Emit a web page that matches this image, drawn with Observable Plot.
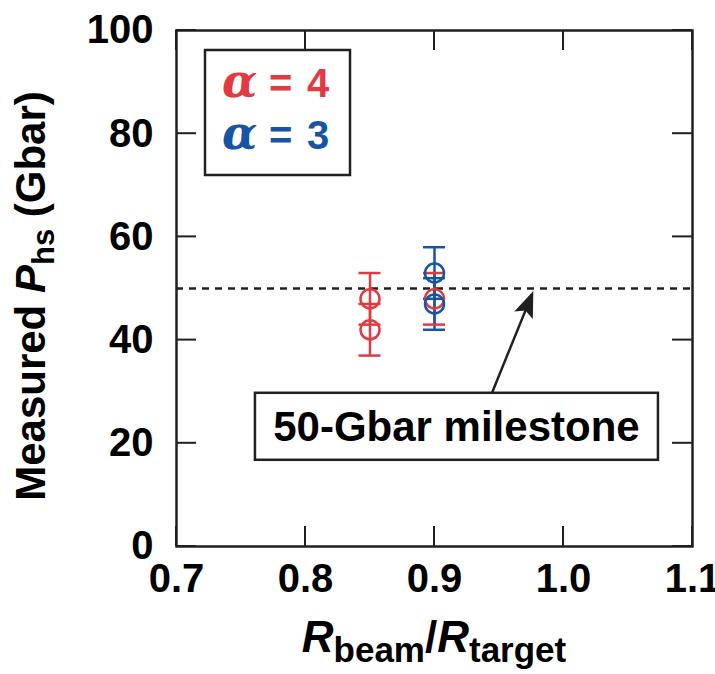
<!DOCTYPE html>
<html><head><meta charset="utf-8">
<script src="https://cdn.jsdelivr.net/npm/d3@7"></script>
<script src="https://cdn.jsdelivr.net/npm/@observablehq/plot@0.6"></script>
<style>body{margin:0;background:#fff} #chart{width:715px;height:674px}</style>
</head><body><div id="chart"></div>
<script>
// ---- data ----
const xTicks = [0.7, 0.8, 0.9, 1.0, 1.1];
const yTicks = [0, 20, 40, 60, 80, 100];
const seriesNames = ["α = 4", "α = 3"];
const seriesColors = ["#e23a41", "#1754a3"];
// alpha = 4 (red)
const redX = [0.85, 0.85, 0.90];
const redY = [48, 42, 48];
const redErr = [5, 5, 5];
// alpha = 3 (blue)
const blueX = [0.90, 0.90];
const blueY = [53, 47];
const blueErr = [5, 5];
// annotation
const milestone = 50;
const milestoneLabel = "50-Gbar milestone";
const arrowFrom = [0.945, 29.7];
const arrowTo = [0.977, 49.4];
const labelAt = [0.9174, 23.2];

const FONT = "'Liberation Sans', Arial, Helvetica, sans-serif";
const INK = "#231f20";
const TICK = 20;

const rows = [
  ...redX.map((x, i) => ({series: seriesNames[0], x, y: redY[i], lo: redY[i] - redErr[i], hi: redY[i] + redErr[i]})),
  ...blueX.map((x, i) => ({series: seriesNames[1], x, y: blueY[i], lo: blueY[i] - blueErr[i], hi: blueY[i] + blueErr[i]}))
];

// inward ticks on all four sides, positioned by the plot's scales
function inwardTicks(index, {x, y}, values, dims) {
  const g = d3.create("svg:g").attr("stroke", INK).attr("stroke-width", 2);
  const L = dims.marginLeft, R = dims.width - dims.marginRight;
  const T = dims.marginTop, B = dims.height - dims.marginBottom;
  for (const v of xTicks) {
    const px = x(v);
    g.append("line").attr("x1", px).attr("x2", px).attr("y1", B).attr("y2", B - TICK);
    g.append("line").attr("x1", px).attr("x2", px).attr("y1", T).attr("y2", T + TICK);
  }
  for (const v of yTicks) {
    const py = y(v);
    g.append("line").attr("y1", py).attr("y2", py).attr("x1", L).attr("x2", L + TICK);
    g.append("line").attr("y1", py).attr("y2", py).attr("x1", R).attr("x2", R - TICK);
  }
  return g.node();
}

function annotation(index, {x, y}) {
  const g = d3.create("svg:g");
  const x0 = x(arrowFrom[0]), y0 = y(arrowFrom[1]);
  const x1 = x(arrowTo[0]), y1 = y(arrowTo[1]);
  const ang = Math.atan2(y1 - y0, x1 - x0);
  const c = Math.cos(ang), s = Math.sin(ang);
  const hl = 26, hw = 10;
  const bx = x1 - hl * c, by = y1 - hl * s;
  g.append("line").attr("x1", x0).attr("y1", y0).attr("x2", bx + 6 * c).attr("y2", by + 6 * s)
    .attr("stroke", INK).attr("stroke-width", 2.5);
  const px = -s, py = c;
  g.append("path")
    .attr("d", `M${x1},${y1}L${bx + hw * px},${by + hw * py}L${bx + 5 * c},${by + 5 * s}L${bx - hw * px},${by - hw * py}Z`)
    .attr("fill", INK);
  const cx = x(labelAt[0]), cy = y(labelAt[1]);
  const w = 403, h = 67;
  g.append("rect").attr("x", cx - w / 2).attr("y", cy - h / 2).attr("width", w).attr("height", h)
    .attr("fill", "white").attr("stroke", INK).attr("stroke-width", 2.5);
  g.append("text").attr("x", cx).attr("y", cy + 15).attr("text-anchor", "middle")
    .attr("font-family", FONT).attr("font-weight", "bold").attr("font-size", 42).attr("fill", "#000")
    .text(milestoneLabel);
  return g.node();
}

function decorations(index, scales, values, dims) {
  const g = d3.create("svg:g").attr("font-family", FONT).attr("font-weight", "bold").attr("fill", "#000");
  // y label
  const yl = g.append("text").attr("transform", "translate(45,296) rotate(-90)")
    .attr("text-anchor", "middle").attr("font-size", 42);
  yl.append("tspan").text("Measured ");
  yl.append("tspan").attr("font-style", "italic").text("P");
  yl.append("tspan").attr("font-size", 31).attr("dy", 9).text("hs");
  yl.append("tspan").attr("dy", -9).text(" (Gbar)");
  // x label
  const cx = (dims.marginLeft + dims.width - dims.marginRight) / 2;
  const xl = g.append("text").attr("x", cx).attr("y", 652).attr("text-anchor", "middle").attr("font-size", 44);
  xl.append("tspan").attr("font-style", "italic").text("R");
  xl.append("tspan").attr("font-size", 35).attr("dy", 10).text("beam");
  xl.append("tspan").attr("dy", -10).text("/");
  xl.append("tspan").attr("font-style", "italic").text("R");
  xl.append("tspan").attr("font-size", 35).attr("dy", 10).text("target");
  // legend box
  const lx = dims.marginLeft + 29, ly = dims.marginTop + 20;
  g.append("rect").attr("x", lx).attr("y", ly).attr("width", 145).attr("height", 125)
    .attr("fill", "white").attr("stroke", INK).attr("stroke-width", 2.5);
  seriesNames.forEach((name, i) => {
    const [a, eq, num] = name.split(" ");
    const by = ly + 47 + i * 52;
    g.append("text").attr("x", lx + 17).attr("y", by).attr("text-anchor", "start")
      .attr("font-family", "'DejaVu Serif', 'Liberation Serif', serif").attr("font-style", "italic")
      .attr("font-weight", "bold").attr("font-size", 46).attr("fill", seriesColors[i]).text(a);
    g.append("text").attr("x", lx + 64).attr("y", by).attr("text-anchor", "start")
      .attr("font-size", 40).attr("fill", seriesColors[i]).text(eq);
    g.append("text").attr("x", lx + 102).attr("y", by).attr("text-anchor", "start")
      .attr("font-size", 40).attr("fill", seriesColors[i]).text(num);
  });
  return g.node();
}

const chart = Plot.plot({
  width: 715,
  height: 674,
  marginLeft: 176,
  marginRight: 23,
  marginTop: 30,
  marginBottom: 128,
  style: {fontFamily: FONT, fontWeight: "bold", fontSize: "40px", color: "#000", background: "white", overflow: "visible"},
  x: {domain: [0.7, 1.1]},
  y: {domain: [0, 100]},
  color: {domain: seriesNames, range: seriesColors},
  marks: [
    Plot.ruleY([milestone], {stroke: INK, strokeWidth: 2.5, strokeDasharray: "7,6"}),
    Plot.ruleX(rows, {x: "x", y1: "lo", y2: "hi", stroke: "series", strokeWidth: 2.5}),
    Plot.ruleY(rows, {y: "hi", x1: "x", x2: "x", insetLeft: -11, insetRight: -11, stroke: "series", strokeWidth: 2.5}),
    Plot.ruleY(rows, {y: "lo", x1: "x", x2: "x", insetLeft: -11, insetRight: -11, stroke: "series", strokeWidth: 2.5}),
    Plot.dot(rows, {x: "x", y: "y", r: 9.5, stroke: "series", strokeWidth: 2.5, fill: "none"}),
    Plot.axisX({ticks: xTicks, anchor: "bottom", tickSize: 0, tickPadding: 17, tickFormat: d3.format(".1f"), label: null, fontSize: 40, fontWeight: "bold"}),
    Plot.axisY({ticks: yTicks, anchor: "left", tickSize: 0, tickPadding: 23, label: null, fontSize: 40, fontWeight: "bold"}),
    inwardTicks,
    Plot.frame({stroke: INK, strokeWidth: 2.5}),
    annotation,
    decorations
  ]
});
document.getElementById("chart").append(chart);
</script>
</body></html>
